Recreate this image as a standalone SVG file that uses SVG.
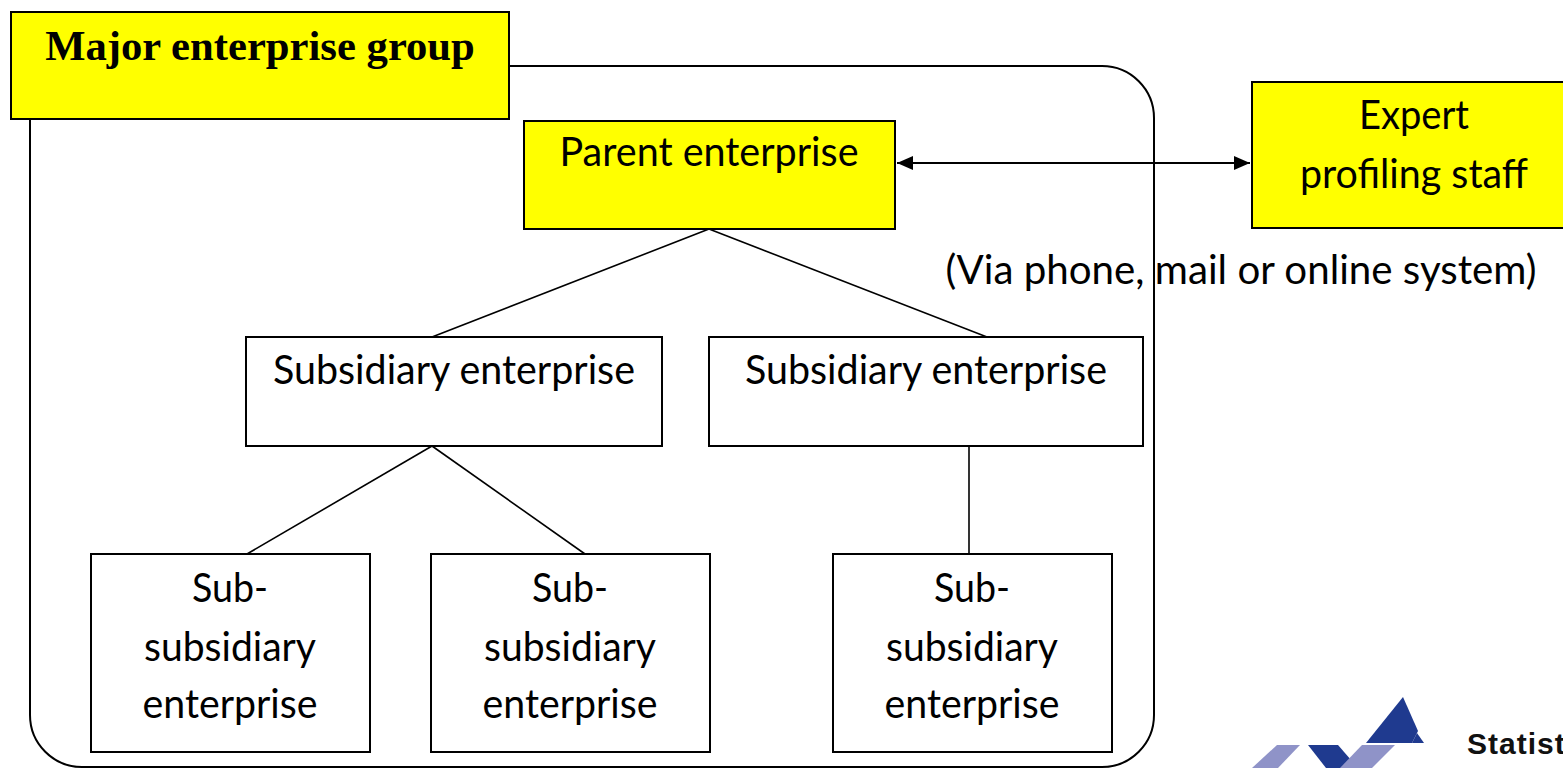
<svg xmlns="http://www.w3.org/2000/svg" width="1563" height="768" viewBox="0 0 1563 768">
<style>
.box{fill:#fff;stroke:#000;stroke-width:2}
.yel{fill:#ffff00;stroke:#000;stroke-width:2}
.t{font-family:Lato,"Liberation Sans",sans-serif;font-size:40px;fill:#000;text-anchor:middle}
.ln{fill:none;stroke:#000;stroke-width:1.6}
</style>
<defs>
<marker id="ah" markerUnits="userSpaceOnUse" markerWidth="18" markerHeight="14" refX="16" refY="7" orient="auto-start-reverse">
<path d="M0,0 L16,7 L0,14 Z" fill="#000"/>
</marker>
</defs>
<rect width="1563" height="768" fill="#fff"/>

<g id="container">
<rect x="30" y="66" width="1124" height="701" rx="52" ry="52" fill="none" stroke="#000" stroke-width="2"/>
</g>

<g id="connectors">
<line class="ln" x1="709" y1="229" x2="432" y2="337"/>
<line class="ln" x1="709" y1="229" x2="987" y2="337"/>
<line class="ln" x1="432" y1="446" x2="247" y2="554"/>
<line class="ln" x1="432" y1="446" x2="585" y2="554"/>
<line class="ln" x1="969" y1="446" x2="969" y2="554"/>
<line stroke="#000" stroke-width="2" x1="897" y1="163" x2="1250" y2="163" marker-start="url(#ah)" marker-end="url(#ah)"/>
</g>

<g id="major-group">
<rect class="yel" x="11" y="12" width="498" height="107"/>
<text x="260" y="60" font-family="'Liberation Serif','Times New Roman',serif" font-weight="bold" font-size="42.67" text-anchor="middle">Major enterprise group</text>
</g>

<g id="parent">
<rect class="yel" x="524" y="121" width="371" height="108"/>
<text class="t" x="709" y="166" textLength="299" lengthAdjust="spacingAndGlyphs">Parent enterprise</text>
</g>

<g id="expert">
<rect class="yel" x="1252" y="82" width="330" height="146"/>
<text class="t" x="1414" y="129" textLength="110" lengthAdjust="spacingAndGlyphs">Expert</text>
<text class="t" x="1414" y="188" textLength="228" lengthAdjust="spacingAndGlyphs">profiling staff</text>
</g>

<g id="via-label">
<text class="t" x="1241" y="284" textLength="591" lengthAdjust="spacingAndGlyphs">(Via phone, mail or online system)</text>
</g>

<g id="subsidiary-1">
<rect class="box" x="246" y="337" width="416" height="109"/>
<text class="t" x="454" y="384" textLength="362" lengthAdjust="spacingAndGlyphs">Subsidiary enterprise</text>
</g>

<g id="subsidiary-2">
<rect class="box" x="709" y="337" width="434" height="109"/>
<text class="t" x="926" y="384" textLength="362" lengthAdjust="spacingAndGlyphs">Subsidiary enterprise</text>
</g>

<g id="subsub-1">
<rect class="box" x="91" y="554" width="279" height="198"/>
<text class="t" x="230" y="602" textLength="76" lengthAdjust="spacingAndGlyphs">Sub-</text>
<text class="t" x="230" y="661" textLength="172" lengthAdjust="spacingAndGlyphs">subsidiary</text>
<text class="t" x="230" y="718" textLength="175" lengthAdjust="spacingAndGlyphs">enterprise</text>
</g>

<g id="subsub-2">
<rect class="box" x="431" y="554" width="279" height="198"/>
<text class="t" x="570" y="602" textLength="76" lengthAdjust="spacingAndGlyphs">Sub-</text>
<text class="t" x="570" y="661" textLength="172" lengthAdjust="spacingAndGlyphs">subsidiary</text>
<text class="t" x="570" y="718" textLength="175" lengthAdjust="spacingAndGlyphs">enterprise</text>
</g>

<g id="subsub-3">
<rect class="box" x="833" y="554" width="279" height="198"/>
<text class="t" x="972" y="602" textLength="76" lengthAdjust="spacingAndGlyphs">Sub-</text>
<text class="t" x="972" y="661" textLength="172" lengthAdjust="spacingAndGlyphs">subsidiary</text>
<text class="t" x="972" y="718" textLength="175" lengthAdjust="spacingAndGlyphs">enterprise</text>
</g>

<g id="logo">
<polygon points="1403,697 1366,743 1412,743 1418,731" fill="#1f3a8f"/>
<polygon points="1417,733 1424,743 1412,743" fill="#1f3a8f"/>
<polygon points="1277,745 1300,745 1278,768 1252,768" fill="#8f93c8"/>
<polygon points="1308,745 1338,745 1358,768 1326,768" fill="#1f3a8f"/>
<polygon points="1362,745 1395,745 1372,768 1340,768" fill="#8f93c8"/>
<text x="1467" y="754" font-family="'Liberation Sans',Arial,sans-serif" font-weight="bold" font-size="30" letter-spacing="1" fill="#111">Statist</text>
</g>
</svg>
